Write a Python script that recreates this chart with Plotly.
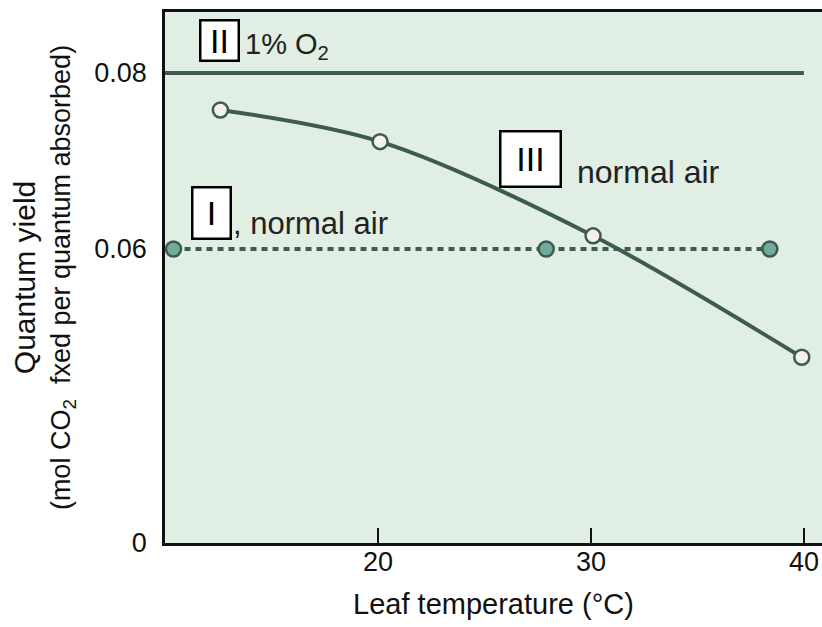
import plotly.graph_objects as go

# Data
x_o2 = [10.0, 40.0]
y_o2 = [0.08, 0.08]

x_air_flat = [10.4, 27.9, 38.4]
y_air_flat = [0.06, 0.06, 0.06]

x_air_curve = [12.6, 20.1, 30.1, 39.9]
y_air_curve = [0.0758, 0.0722, 0.0615, 0.0477]

# y-axis is broken: 0 sits at the bottom of the frame
y_zero_pos = 0.0266
ytick_vals = [y_zero_pos, 0.06, 0.08]
ytick_text = ["0", "0.06", "0.08"]
xtick_vals = [20, 30, 40]

line_col = "#3d5c4d"
bg_col = "#e0eee4"

fig = go.Figure()
fig.add_trace(go.Scatter(x=x_o2, y=y_o2, mode="lines",
                         line=dict(color=line_col, width=4), showlegend=False))
fig.add_trace(go.Scatter(x=x_air_flat, y=y_air_flat, mode="lines+markers",
                         line=dict(color=line_col, width=4, dash="6px,5px"),
                         marker=dict(size=15, color="#72aa9b", line=dict(color=line_col, width=2.5)),
                         showlegend=False))
fig.add_trace(go.Scatter(x=x_air_curve, y=y_air_curve, mode="lines+markers",
                         line=dict(color=line_col, width=4, shape="spline", smoothing=0.9),
                         marker=dict(size=15, color="#f4f1ed", line=dict(color=line_col, width=2.5)),
                         showlegend=False))

font = "Liberation Sans, Arial, sans-serif"

def box_label(x, y, txt, w, h):
    fig.add_annotation(x=x, y=y, xref="x", yref="y", text=txt, showarrow=False,
                       width=w, height=h,
                       font=dict(family=font, size=34, color="black"),
                       bgcolor="white", bordercolor="black", borderwidth=2.5, borderpad=0)

box_label(12.58, 0.08364, "II", 36, 38)
box_label(12.16, 0.06409, "I", 36, 49)
box_label(27.14, 0.07023, "III", 58, 53)

def plain(x, y, txt, size):
    fig.add_annotation(x=x, y=y, xref="x", yref="y", text=txt, showarrow=False,
                       xanchor="left", font=dict(family=font, size=size, color="#222"))

plain(13.65, 0.0831, "1% O<sub>2</sub>", 29)
plain(13.12, 0.0629, ", normal air", 31)
plain(29.25, 0.06875, "normal air", 32)

fig.update_layout(
    width=822, height=627,
    margin=dict(l=165, r=0, t=12, b=84),
    paper_bgcolor="white", plot_bgcolor=bg_col,
    font=dict(family=font, size=26, color="#111"),
    xaxis=dict(range=[10.0, 40.85], tickvals=xtick_vals, ticks="inside", ticklen=15,
               tickwidth=2, tickcolor="#111", showline=True, linecolor="#111", linewidth=2.5,
               mirror=True, showgrid=False, zeroline=False, ticklabelstandoff=-7,
               tickfont=dict(size=27),
               title=dict(text="Leaf temperature (°C)", font=dict(size=29), standoff=18)),
    yaxis=dict(range=[y_zero_pos, 0.08693], tickvals=ytick_vals, ticktext=ytick_text,
               ticks="", showline=True, linecolor="#111", linewidth=2.5,
               showgrid=False, zeroline=False, ticklabelstandoff=10,
               tickfont=dict(size=27),
               title=dict(text="<span style='font-size:30px'>Quantum yield</span><br>(mol CO<sub>2</sub>  fxed per quantum absorbed)",
                          font=dict(size=27), standoff=16)),
)

fig.write_html("out.html", config={"displayModeBar": False},
               post_script="document.body.style.margin='0px';document.body.style.overflow='hidden';")
